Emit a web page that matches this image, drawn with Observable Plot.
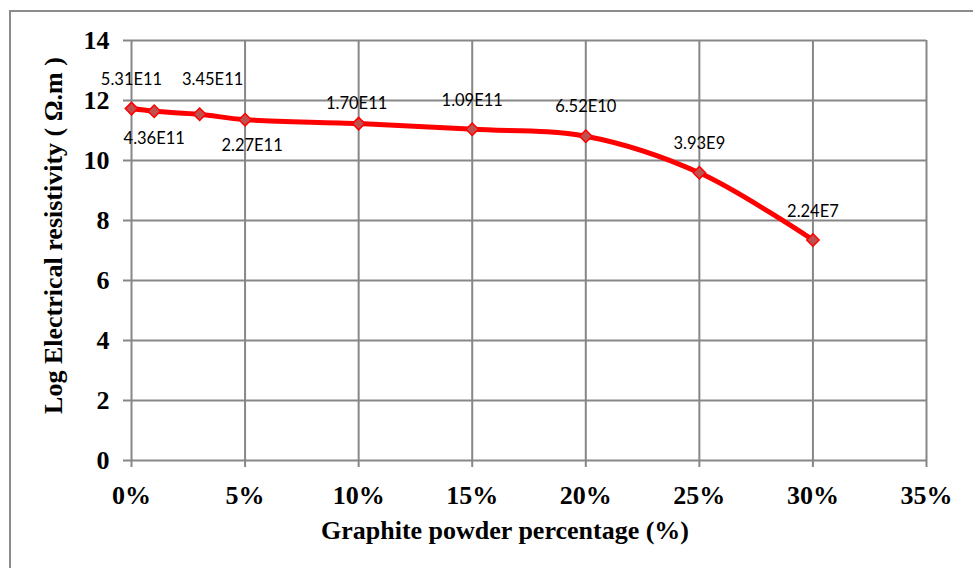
<!DOCTYPE html>
<html>
<head>
<meta charset="utf-8">
<script src="https://cdn.jsdelivr.net/npm/d3@7"></script>
<script src="https://cdn.jsdelivr.net/npm/@observablehq/plot@0.6"></script>
<style>
  html, body { margin: 0; padding: 0; background: #fff; overflow: hidden; }
  #wrap { position: relative; width: 973px; height: 568px; }
  #border { position: absolute; left: 9px; top: 10px; width: 1000px; height: 600px;
            border: 2px solid #8c8c8c; box-sizing: border-box; pointer-events: none; }
  #chart { position: absolute; left: 0; top: 0; }
</style>
</head>
<body>
<div id="wrap"><div id="chart"></div><div id="border"></div></div>
<script>
// Data
const graphitePct = [0, 1, 3, 5, 10, 15, 20, 25, 30];
const logResistivity = [11.73, 11.64, 11.54, 11.36, 11.23, 11.04, 10.81, 9.59, 7.35];
const resistivityLabels = ["5.31E11", "4.36E11", "3.45E11", "2.27E11", "1.70E11", "1.09E11", "6.52E10", "3.93E9", "2.24E7"];
const xTicks = [0, 5, 10, 15, 20, 25, 30, 35];
const yTicks = [0, 2, 4, 6, 8, 10, 12, 14];

// label placement (layout only)
const labelOffsets = [[0, -29], [0, 27], [13, -35], [7, 26], [-2, -20], [0, -29], [0, -29], [0, -29], [0, -28]];

const data = graphitePct.map((x, i) => ({x, y: logResistivity[i], label: resistivityLabels[i]}));

const serif = "'Liberation Serif', 'Times New Roman', serif";
const gridColor = "#878787";

const labelMarks = data.map((d, i) => Plot.text([d], {
  x: "x", y: "y", text: "label",
  dx: labelOffsets[i][0], dy: labelOffsets[i][1],
  fontFamily: "Lato, 'Open Sans', sans-serif", fontSize: 16.5, fill: "#000"
}));

const chart = Plot.plot({
  width: 973,
  height: 568,
  marginLeft: 131,
  marginRight: 47,
  marginTop: 40,
  marginBottom: 108,
  x: {domain: [0, 35]},
  y: {domain: [0, 14]},
  marks: [
    Plot.gridX(xTicks, {stroke: gridColor, strokeOpacity: 1, strokeWidth: 2}),
    Plot.gridY(yTicks, {stroke: gridColor, strokeOpacity: 1, strokeWidth: 2}),
    Plot.axisX(xTicks, {
      tickSize: 7, tickPadding: 18, stroke: gridColor, strokeWidth: 2,
      tickFormat: d => d + "%",
      fontSize: 26, fontWeight: "bold", fontFamily: serif, fill: "#000",
      label: null
    }),
    Plot.axisY(yTicks, {
      tickSize: 8, tickPadding: 14, stroke: gridColor, strokeWidth: 2,
      fontSize: 26, fontWeight: "bold", fontFamily: serif, fill: "#000",
      label: null
    }),
    Plot.line(data, {x: "x", y: "y", stroke: "#ff0000", strokeWidth: 5, curve: "catmull-rom"}),
    Plot.dot(data, {x: "x", y: "y", symbol: "diamond2", r: 5.6, fill: "#c0504d", stroke: "#ff0000", strokeWidth: 1.5}),
    ...labelMarks,
    Plot.text(["Graphite powder percentage (%)"], {
      frameAnchor: "bottom", dx: -24, dy: 78,
      fontSize: 26, fontWeight: "bold", fontFamily: serif, fill: "#000"
    }),
    Plot.text(["Log Electrical resistivity ( \u03A9.m )"], {
      frameAnchor: "left", textAnchor: "middle", dx: -78, dy: -15, rotate: -90,
      fontSize: 26, fontWeight: "bold", fontFamily: serif, fill: "#000"
    })
  ]
});
document.getElementById("chart").appendChild(chart);
</script>
</body>
</html>
